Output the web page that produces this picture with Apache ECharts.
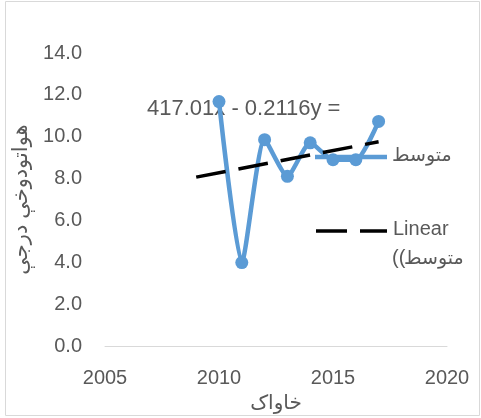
<!DOCTYPE html>
<html>
<head>
<meta charset="utf-8">
<script src="https://cdn.jsdelivr.net/npm/echarts@6/dist/echarts.min.js"></script>
<style>
  html, body { margin: 0; padding: 0; background: #fff; }
  #chart { width: 481px; height: 418px; }
</style>
</head>
<body>
<div id="chart"></div>
<script>
// سالونه او اوسط
const years = [2010, 2011, 2012, 2013, 2014, 2015, 2016, 2017];
const avgValues = [11.68, 3.99, 9.86, 8.11, 9.71, 8.9, 8.9, 10.73];
// linear trend line ends
const trendYears = [2009, 2017];
const trendValues = [8.07, 9.76];
const xTicks = [2005, 2010, 2015, 2020];
const yTicks = [0, 2, 4, 6, 8, 10, 12, 14];

const seriesName = 'متوسط';
const trendName = 'Linear';
const equation = '417.01x - 0.2116y =';

const gray = '#595959';
const font = '"Liberation Sans", "DejaVu Sans", sans-serif';

const chart = echarts.init(document.getElementById('chart'));

const option = {
  animation: false,
  textStyle: { fontFamily: font },
  grid: { left: 105, right: 34, top: 53, bottom: 71 },
  xAxis: {
    type: 'value',
    min: xTicks[0],
    max: xTicks[xTicks.length - 1],
    interval: 5,
    name: 'خاواک',
    nameLocation: 'middle',
    nameGap: 38,
    nameTextStyle: { color: gray, fontSize: 20, fontFamily: font },
    axisLine: { show: true, onZero: false, lineStyle: { color: '#d9d9d9', width: 1 } },
    axisTick: { show: false },
    splitLine: { show: false },
    axisLabel: { color: gray, fontSize: 20, margin: 22, fontFamily: font, formatter: v => String(v) }
  },
  yAxis: {
    type: 'value',
    min: yTicks[0],
    max: yTicks[yTicks.length - 1],
    interval: 2,
    name: 'هواتودوخې درجې',
    nameLocation: 'middle',
    nameRotate: 90,
    nameGap: 70,
    nameTextStyle: { color: gray, fontSize: 21, fontFamily: font },
    axisLine: { show: false },
    axisTick: { show: false },
    splitLine: { show: false },
    axisLabel: {
      color: gray, fontSize: 20, margin: 23, fontFamily: font,
      formatter: v => v.toFixed(1)
    }
  },
  series: [
    {
      name: trendName,
      type: 'line',
      data: trendYears.map((y, i) => [y, trendValues[i]]),
      symbol: 'none',
      z: 3,
      lineStyle: { color: '#000', width: 3.5, type: [30, 13] }
    },
    {
      name: seriesName,
      type: 'line',
      data: years.map((y, i) => [y, avgValues[i]]),
      smooth: 0.2,
      symbol: 'circle',
      symbolSize: 13,
      z: 2,
      itemStyle: { color: '#5b9bd5' },
      lineStyle: { color: '#5b9bd5', width: 4.5 }
    }
  ],
  graphic: [
    {
      type: 'rect', silent: true,
      shape: { x: 5.5, y: 1.5, width: 474, height: 414 },
      style: { fill: 'none', stroke: '#d9d9d9', lineWidth: 1 }
    },
    {
      type: 'text', left: 147, top: 98, z: 1,
      style: { text: equation, fill: gray, font: '22px ' + font }
    },
    // legend
    {
      type: 'line', shape: { x1: 315, y1: 157, x2: 387, y2: 157 },
      style: { stroke: '#5b9bd5', lineWidth: 4.5 }
    },
    {
      type: 'text', left: 392, top: 146,
      style: { text: seriesName, fill: gray, font: '19px ' + font }
    },
    {
      type: 'line', shape: { x1: 316, y1: 231, x2: 387, y2: 231 },
      style: { stroke: '#000', lineWidth: 3.5, lineDash: [31, 13] }
    },
    {
      type: 'text', left: 393, top: 219,
      style: { text: trendName, fill: gray, font: '20px ' + font }
    },
    {
      type: 'text', left: 392, top: 248,
      style: { text: '\u200E((\u200E', fill: gray, font: '20px ' + font }
    },
    {
      type: 'text', left: 404, top: 249,
      style: { text: seriesName, fill: gray, font: '19px ' + font }
    }
  ]
};

chart.setOption(option);
</script>
</body>
</html>
